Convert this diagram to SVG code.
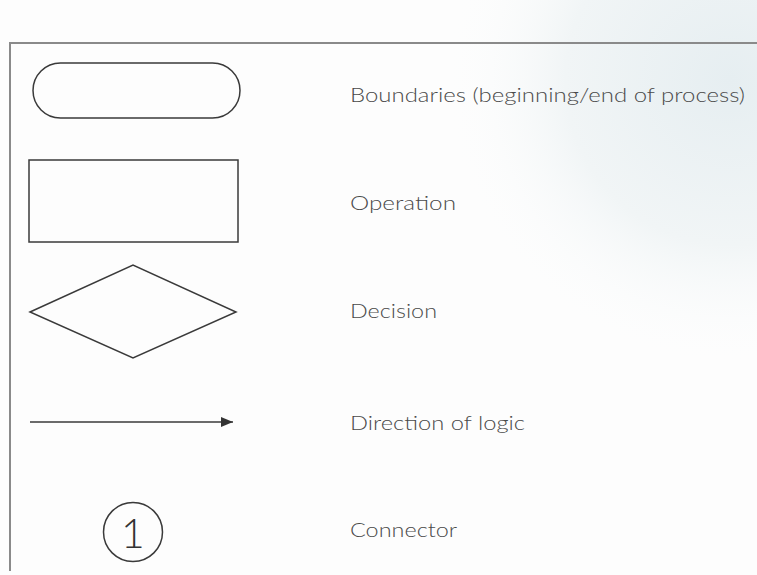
<svg xmlns="http://www.w3.org/2000/svg" width="757" height="575" viewBox="0 0 757 575">
  <defs>
    <radialGradient id="tint" cx="730" cy="80" r="300" gradientUnits="userSpaceOnUse">
      <stop offset="0" stop-color="#e6eef1"/>
      <stop offset="0.55" stop-color="#f1f5f6"/>
      <stop offset="1" stop-color="#ffffff" stop-opacity="0"/>
    </radialGradient>
    <marker id="arrow" viewBox="0 0 12 10" refX="12" refY="5" markerWidth="12" markerHeight="10" markerUnits="userSpaceOnUse" orient="auto">
      <path d="M0,0 L12,5 L0,10 Z" fill="#333"/>
    </marker>
    <style>
      .shape { fill: none; stroke: #3a3a3a; stroke-width: 1.5; }
      .label { font-family: Lato, "Liberation Sans", Arial, sans-serif; font-weight: 300; font-size: 20px; fill: #4a4a4a; }
      .frame { stroke: #8a8a8a; stroke-width: 2; fill: none; }
    </style>
  </defs>

  <!-- paper -->
  <rect width="757" height="575" fill="#fdfdfd"/>
  <rect width="757" height="575" fill="url(#tint)"/>

  <!-- page frame -->
  <path class="frame" d="M10,571 V43 H757"/>

  <g id="boundaries">
    <rect class="shape" x="33" y="63" width="207" height="55" rx="27.5" ry="27.5"/>
    <text class="label" x="350" y="102" textLength="395" lengthAdjust="spacingAndGlyphs">Boundaries (beginning/end of process)</text>
  </g>

  <g id="operation">
    <rect class="shape" x="29" y="160" width="209" height="82"/>
    <text class="label" x="350" y="210" textLength="106" lengthAdjust="spacingAndGlyphs">Operation</text>
  </g>

  <g id="decision">
    <polygon class="shape" points="30,312 133,265 236,312 133,358"/>
    <text class="label" x="350" y="318" textLength="87" lengthAdjust="spacingAndGlyphs">Decision</text>
  </g>

  <g id="connectors">
    <line class="shape" x1="30" y1="422" x2="233" y2="422" marker-end="url(#arrow)"/>
  </g>
  <g id="direction-label">
    <text class="label" x="350" y="430" textLength="175" lengthAdjust="spacingAndGlyphs">Direction of logic</text>
  </g>

  <g id="connector">
    <circle class="shape" cx="133" cy="532" r="29.5"/>
    <text x="133" y="548" text-anchor="middle" font-family="Lato, 'Liberation Sans', sans-serif" font-weight="300" font-size="41" fill="#333">1</text>
    <text class="label" x="350" y="537" textLength="107" lengthAdjust="spacingAndGlyphs">Connector</text>
  </g>
</svg>
